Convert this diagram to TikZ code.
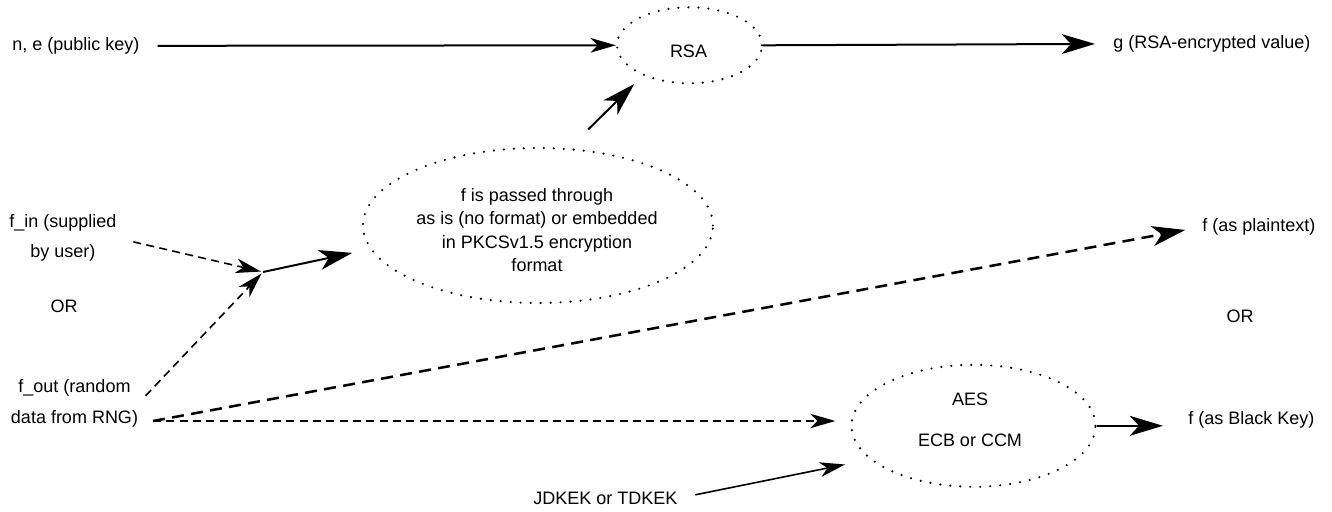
\documentclass[tikz,border=0pt]{standalone}
\usepackage{fontspec}
\setmainfont{Liberation Sans}
\usetikzlibrary{arrows.meta,shapes.geometric}
\begin{document}
\begin{tikzpicture}[x=0.75pt,y=-0.75pt,
  every node/.style={font=\fontsize{13.5}{17.5}\selectfont, inner sep=0pt},
  twoline/.style={align=center, font=\fontsize{13.5}{23}\selectfont},
  proc/.style={ellipse, draw, line width=1.8pt, dash pattern=on 0pt off 7.5pt, line cap=round, inner sep=0pt},
  flow/.style={line width=1.5pt},
  thinflow/.style={line width=1.2pt},
  dashflow/.style={line width=1.2pt, dash pattern=on 6pt off 4pt},
  bigdash/.style={line width=1.9pt, dash pattern=on 9pt off 5.5pt},
  tipL/.style={-{Stealth[length=25pt,width=15pt,inset=7pt]}},
  tipM/.style={-{Stealth[length=19pt,width=11pt,inset=5.5pt]}},
]
\path[fill=white, use as bounding box] (0,0) rectangle (1332,511);

% processing stages
\node[proc, minimum width=108.75pt, minimum height=57pt] (rsa) at (689.5,45.3) {};
\node (rsatxt) at (688.5,51.7) {RSA};
\node[proc, minimum width=262.5pt, minimum height=116.25pt] (pkcs) at (538,225.5) {};
\node[align=center] (pkcstxt) at (537,230) {f is passed through\\as is (no format) or embedded\\in PKCSv1.5 encryption\\format};
\node[proc, minimum width=183pt, minimum height=91.5pt] (aes) at (973.5,425.8) {};
\node[align=center, font=\fontsize{13.5}{30.9}\selectfont] (aestxt) at (970,419.4) {AES\\ECB or CCM};

% inputs and outputs
\node[anchor=base west] (ne) at (12,50.5) {n, e (public key)};
\node[twoline] (fin) at (63,238) {f\_in (supplied\\by user)};
\node (or1) at (64,306) {OR};
\node[twoline] (fout) at (74.5,403.5) {f\_out (random\\data from RNG)};
\node[anchor=base west] (g) at (1113,48.5) {g (RSA-encrypted value)};
\node[anchor=base west] (plain) at (1202,231.5) {f (as plaintext)};
\node (or2) at (1240,316) {OR};
\node[anchor=base west] (black) at (1188,424.5) {f (as Black Key)};
\node[anchor=base west] (jdkek) at (533,504.5) {JDKEK or TDKEK};

\coordinate (j) at (263,272);
\coordinate (fsrc) at (153,421);

% connectors
\draw[flow, tipM, shorten <=13.5pt] (ne.east) -- (rsa.west);
\draw[flow, tipL, shorten >=13.5pt] (rsa.east) -- (g.west);
\draw[flow, tipL, shorten <=20pt, shorten >=9pt] (pkcs.68) -- (rsa.213);
\draw[dashflow, tipM, shorten <=12.75pt, shorten >=1.5pt] (fin.east) -- (j);
\draw[dashflow, tipM, shorten <=8pt, shorten >=1.5pt] (fout.east) -- (j);
\draw[flow, tipL, shorten >=13.5pt] (j) -- (pkcs.188);
\draw[bigdash, tipL, shorten >=12.75pt] (fsrc) -- (plain.west);
\draw[dashflow, tipM, shorten >=11.25pt] (fsrc) -- (fsrc -| aes.west);
\draw[flow, tipL, shorten >=18.75pt] (aes.east) -- (aes.east -| black.west);
\draw[thinflow, tipM, shorten <=13.5pt, shorten >=19pt] (jdkek.east) -- (aes.198);
\end{tikzpicture}
\end{document}
